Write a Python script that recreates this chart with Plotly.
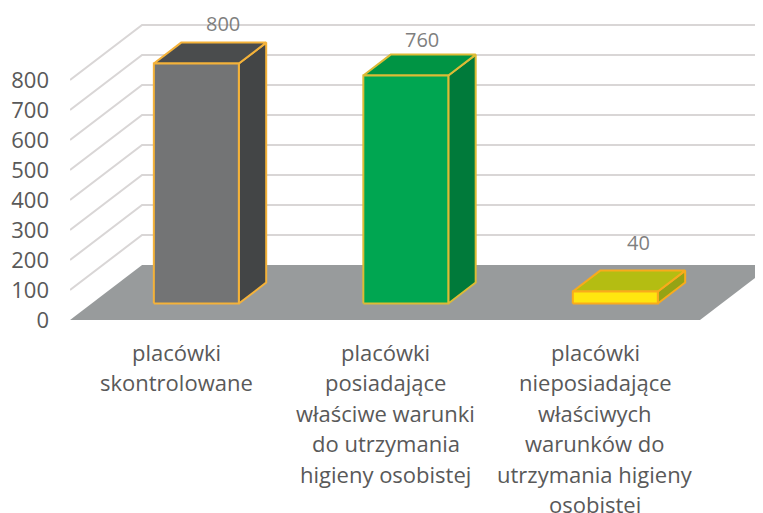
import plotly.graph_objects as go

categories = [
    ["placówki", "skontrolowane"],
    ["placówki", "posiadające", "właściwe warunki", "do utrzymania", "higieny osobistej"],
    ["placówki", "nieposiadające", "właściwych", "warunków do", "utrzymania higieny", "osobistej"],
]
values = [800, 760, 40]
y_ticks = [0, 100, 200, 300, 400, 500, 600, 700, 800]
front_colors = ["#737475", "#00a651", "#ffe60f"]
top_colors = ["#4a4c4d", "#009444", "#b4bd12"]
side_colors = ["#434546", "#007a3a", "#95a315"]
edge_colors = ["#f4b23a", "#dcbb36", "#f9ab1c"]
label_shift = [(-1, 19), (-11, 15), (-4, 28)]

PAGE_INSET = 8        # the browser's default body margin
PX_X = 209.5          # px per category
PX_Y = 0.3            # px per value unit
DEPTH_X = 72 / PX_X   # oblique offset of the back wall, x units
DEPTH_Y = 55 / PX_Y   # oblique offset of the back wall, value units
HALF = 42.5 / PX_X
D0, D1 = 0.30, 0.68   # bar depth within the floor
X_MIN = -0.5
LEFT_PX = 174.7 + X_MIN * PX_X
X_MAX = (763 - 174.7) / PX_X
WALL_END = X_MAX + 1


def proj(x, v, d):
    return x + d * DEPTH_X, v + d * DEPTH_Y


def poly(points):
    pts = [proj(*p) for p in points]
    pts.append(pts[0])
    return [p[0] for p in pts], [p[1] for p in pts]


fig = go.Figure()
LEFT = X_MIN + (70 - LEFT_PX) / PX_X
FLOOR_RIGHT = LEFT + (700 - 70) / PX_X

# floor
fx, fy = poly([(LEFT, 0, 0), (LEFT, 0, 1), (FLOOR_RIGHT, 0, 1), (FLOOR_RIGHT, 0, 0)])
fig.add_trace(go.Scatter(x=fx, y=fy, mode="lines", fill="toself", fillcolor="#989b9c",
                         line=dict(color="#989b9c", width=0), hoverinfo="skip"))
# gridlines on side and back wall
for v in y_ticks[1:]:
    a = proj(LEFT, v, 0)
    b = proj(LEFT, v, 1)
    c = proj(WALL_END, v, 1)
    fig.add_trace(go.Scatter(x=[a[0], b[0], c[0]], y=[a[1], b[1], c[1]], mode="lines",
                             line=dict(color="#d9d6d6", width=2), hoverinfo="skip"))
# bars
for i, v in enumerate(values):
    l, r = i - HALF, i + HALF
    faces = [
        ([(r, 0, D0), (r, 0, D1), (r, v, D1), (r, v, D0)], side_colors[i]),
        ([(l, v, D0), (l, v, D1), (r, v, D1), (r, v, D0)], top_colors[i]),
        ([(l, 0, D0), (r, 0, D0), (r, v, D0), (l, v, D0)], front_colors[i]),
    ]
    for pts, col in faces:
        px, py = poly(pts)
        fig.add_trace(go.Scatter(x=px, y=py, mode="lines", fill="toself", fillcolor=col,
                                 line=dict(color=edge_colors[i], width=2), hoverinfo="skip"))
    lx, ly = proj(i, v, D1)
    fig.add_annotation(x=lx, y=ly, text=str(v), showarrow=False, xref="x", yref="y",
                       xshift=label_shift[i][0], yshift=label_shift[i][1],
                       font=dict(family="Open Sans", size=20, color="#7f7f7f"))
# category labels
for i, lines in enumerate(categories):
    for j, line in enumerate(lines):
        fig.add_annotation(x=i, y=0, text=line, showarrow=False, xref="x", yref="y",
                           xshift=1.5, yshift=-(32 + j * 30.4), yanchor="middle",
                           font=dict(family="Open Sans", size=22, color="#595959"))

fig.update_layout(
    width=763 - PAGE_INSET, height=513 - PAGE_INSET, showlegend=False,
    paper_bgcolor="white", plot_bgcolor="white",
    margin=dict(l=LEFT_PX - PAGE_INSET, r=0, t=0, b=0),
    font=dict(family="Open Sans", color="#595959"),
    xaxis=dict(range=[X_MIN, X_MAX], visible=False, fixedrange=True),
    yaxis=dict(range=[-193 / PX_Y, (320 - PAGE_INSET) / PX_Y], tickvals=y_ticks,
               ticktext=[str(t) for t in y_ticks], ticklabelstandoff=20,
               showgrid=False, zeroline=False, showline=False, ticks="", fixedrange=True,
               tickfont=dict(family="Open Sans", size=22, color="#595959")),
)
fig.write_html("out.html", config={"displayModeBar": False})
